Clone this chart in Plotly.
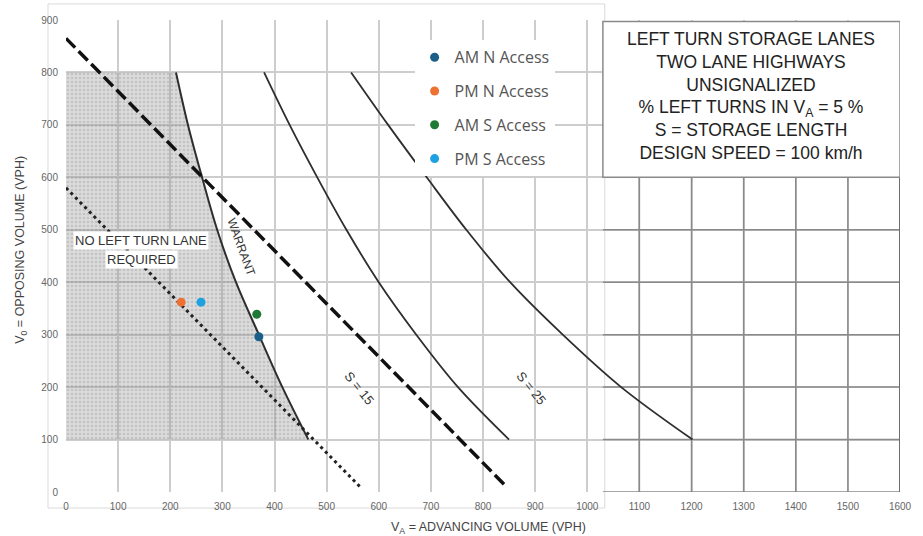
import plotly.graph_objects as go

# ---------------- data ----------------
x_ticks = list(range(0, 1700, 100))
y_ticks = list(range(0, 1000, 100))

warrant_va = [211, 234, 261, 290, 326, 370, 415, 465]
warrant_vo = [800, 700, 600, 500, 400, 300, 200, 100]

s15_va = [380, 429, 482, 538, 600, 672, 752, 850]
s15_vo = [800, 700, 600, 500, 400, 300, 200, 100]

s25_va = [547, 618, 692, 768, 852, 953, 1065, 1202]
s25_vo = [800, 700, 600, 500, 400, 300, 200, 100]

dashed_va = [0, 845]
dashed_vo = [865, 10]

dotted_va = [0, 566]
dotted_vo = [580, 8]

point_names = ["AM N Access", "PM N Access", "AM S Access", "PM S Access"]
point_va = [370, 221, 366, 259]
point_vo = [296, 362, 339, 362]
point_colors = ["#1b5e87", "#ee7133", "#1f7a35", "#1da1e0"]

ext_vlines = [1100, 1200, 1300, 1400, 1500]
ext_hlines = [0, 100, 200, 300, 400, 500]

box_lines = ["LEFT TURN STORAGE LANES", "TWO LANE HIGHWAYS", "UNSIGNALIZED",
             "% LEFT TURNS IN V<sub>A</sub> = 5 %", "S = STORAGE LENGTH",
             "DESIGN SPEED = 100 km/h"]

FONT = "Liberation Sans, Arial, sans-serif"

fig = go.Figure()

# shaded "no left turn lane required" region
fig.add_trace(go.Scatter(
    x=[0] + warrant_va + [0], y=[800] + warrant_vo + [100],
    fill="toself", mode="lines", line=dict(width=0),
    fillcolor="rgba(150,150,150,0.42)",
    fillpattern=dict(shape=".", bgcolor="rgba(150,150,150,0.34)",
                     fgcolor="rgba(110,110,110,0.45)", size=4, solidity=0.35),
    showlegend=False, hoverinfo="skip"))

# curves
fig.add_trace(go.Scatter(x=warrant_va, y=warrant_vo, mode="lines",
                         line=dict(color="#2e2e2e", width=2, shape="spline", smoothing=1),
                         showlegend=False, hoverinfo="skip"))
fig.add_trace(go.Scatter(x=s15_va, y=s15_vo, mode="lines",
                         line=dict(color="#2e2e2e", width=1.8, shape="spline", smoothing=1),
                         showlegend=False, hoverinfo="skip"))
fig.add_trace(go.Scatter(x=s25_va, y=s25_vo, mode="lines",
                         line=dict(color="#2e2e2e", width=1.8, shape="spline", smoothing=1),
                         showlegend=False, hoverinfo="skip"))
fig.add_trace(go.Scatter(x=dashed_va, y=dashed_vo, mode="lines",
                         line=dict(color="#111111", width=3.5, dash="13px,5px"),
                         showlegend=False, hoverinfo="skip"))
fig.add_trace(go.Scatter(x=dotted_va, y=dotted_vo, mode="lines",
                         line=dict(color="#222222", width=3, dash="3px,3.6px"),
                         showlegend=False, hoverinfo="skip"))

# data points
for i, (n, xv, yv, c) in enumerate(zip(point_names, point_va, point_vo, point_colors)):
    fig.add_trace(go.Scatter(x=[xv], y=[yv], mode="markers", name=n,
                             legendgroup=f"g{i}",
                             marker=dict(color=c, size=9)))

shapes = []
# outer scan frame
shapes.append(dict(type="rect", xref="paper", yref="paper",
                   x0=-0.0216, x1=0.646, y0=-0.034, y1=1.034,
                   line=dict(color="#dadada", width=1), layer="below"))
# extension grid (darker)
for v in ext_vlines:
    shapes.append(dict(type="line", x0=v, x1=v, y0=0, y1=600,
                       line=dict(color="#8a8a8a", width=1.5), layer="between"))
for h in ext_hlines:
    shapes.append(dict(type="line", x0=1030, x1=1600, y0=h, y1=h,
                       line=dict(color="#8a8a8a", width=1.5), layer="between"))
shapes.append(dict(type="line", x0=1600, x1=1600, y0=0, y1=897,
                   line=dict(color="#6e6e6e", width=2), layer="between"))
# title box
shapes.append(dict(type="rect", x0=1030, x1=1600, y0=600, y1=897,
                   line=dict(color="#8a8a8a", width=1.5), fillcolor="white", layer="between"))

annotations = [
    dict(x=1315, y=755, xref="x", yref="y", text="<br>".join(box_lines),
         showarrow=False, font=dict(family=FONT, size=17.5, color="#222"), align="center"),
    dict(x=144, y=480, xref="x", yref="y", text="NO LEFT TURN LANE", showarrow=False,
         bgcolor="white", borderpad=1, font=dict(family=FONT, size=13, color="#333")),
    dict(x=144, y=444, xref="x", yref="y", text="REQUIRED", showarrow=False,
         bgcolor="white", borderpad=1, font=dict(family=FONT, size=13, color="#333")),
    dict(x=336, y=467, xref="x", yref="y", text="WARRANT", showarrow=False, textangle=70,
         font=dict(family=FONT, size=12, color="#333")),
    dict(x=563, y=197, xref="x", yref="y", text="S = 15", showarrow=False, textangle=51,
         font=dict(family=FONT, size=13, color="#333")),
    dict(x=893, y=197, xref="x", yref="y", text="S = 25", showarrow=False, textangle=51,
         font=dict(family=FONT, size=13, color="#333")),
    dict(x=0.506, y=-0.097, xref="paper", yref="paper",
         text="V<sub>A</sub> = ADVANCING VOLUME (VPH)", showarrow=False,
         font=dict(family=FONT, size=12.5, color="#444")),
    dict(x=-0.066, y=0.513, xref="paper", yref="paper", textangle=-90,
         text="V<sub>0</sub> = OPPOSING VOLUME (VPH)", showarrow=False,
         font=dict(family=FONT, size=12.5, color="#444")),
]

fig.update_layout(
    width=923, height=536,
    margin=dict(l=66, r=23, t=20, b=44),
    plot_bgcolor="white", paper_bgcolor="white",
    shapes=shapes, annotations=annotations,
    legend=dict(x=0.418, y=0.957, xanchor="left", yanchor="top",
                bgcolor="white", borderwidth=0, traceorder="grouped",
                tracegroupgap=10,
                font=dict(family="Open Sans, sans-serif", size=16, color="#555")),
    xaxis=dict(range=[0, 1600], tickvals=x_ticks, ticktext=[str(v) for v in x_ticks],
               showgrid=True, gridcolor="#cdcdcd", gridwidth=2, zeroline=False,
               ticks="outside", ticklen=5, tickcolor="rgba(0,0,0,0)",
               tickfont=dict(family=FONT, size=10, color="#666"), fixedrange=True),
    yaxis=dict(range=[0, 900], tickvals=y_ticks, ticktext=[str(v) for v in y_ticks],
               showgrid=True, gridcolor="#cdcdcd", gridwidth=2, zeroline=False,
               ticks="outside", ticklen=5, tickcolor="rgba(0,0,0,0)",
               tickfont=dict(family=FONT, size=10, color="#666"), fixedrange=True),
)

fig.write_html("out.html", config={"displayModeBar": False},
               post_script="document.body.style.margin='0';")
